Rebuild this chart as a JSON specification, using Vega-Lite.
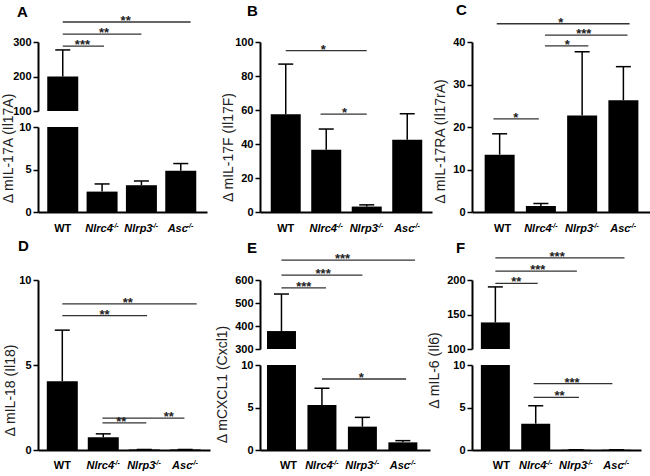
{
 "$schema": "https://vega.github.io/schema/vega-lite/v6.json",
 "padding": {"left": 1, "top": 2, "right": 0, "bottom": 0},
 "background": "white",
 "config": {
  "view": {"stroke": null},
  "font": "Liberation Sans",
  "axis": {"domainColor": "#000", "domainWidth": 2, "tickColor": "#000", "tickWidth": 1.5, "tickSize": 5, "tickCount": 12, "labelFont": "Liberation Sans", "labelFontWeight": "bold", "labelFontSize": 11, "labelColor": "#000", "labelPadding": 2, "labelFlush": false, "labelOverlap": false, "grid": false, "titleFont": "Liberation Sans", "titleFontWeight": "normal", "titleFontSize": 14, "titleColor": "#222"},
  "title": {"anchor": "start", "frame": "group", "fontSize": 15, "fontWeight": "bold", "font": "Liberation Sans", "color": "#000", "offset": 0}
 },
 "datasets": {
  "A": [{"idx": 0, "name": "WT", "mean": 200, "upper": 277}, {"idx": 1, "name": "Nlrc4", "mean": 2.4, "upper": 3.3}, {"idx": 2, "name": "Nlrp3", "mean": 3.15, "upper": 3.65}, {"idx": 3, "name": "Asc", "mean": 4.85, "upper": 5.7}],
  "As": [{"from": 0, "to": 1.05, "lvl": 288, "sx": 0.5, "label": "***"}, {"from": 0, "to": 2.0, "lvl": 323, "sx": 1.05, "label": "**"}, {"from": 0, "to": 3.25, "lvl": 358, "sx": 1.6, "label": "**"}],
  "B": [{"idx": 0, "name": "WT", "mean": 57.5, "upper": 87}, {"idx": 1, "name": "Nlrc4", "mean": 36.6, "upper": 48.8}, {"idx": 2, "name": "Nlrp3", "mean": 3.2, "upper": 4.2}, {"idx": 3, "name": "Asc", "mean": 42.5, "upper": 57.8}],
  "Bs": [{"from": 0, "to": 2, "lvl": 94.9, "sx": 0.93, "label": "*"}, {"from": 0.86, "to": 2, "lvl": 57.6, "sx": 1.45, "label": "*"}],
  "C": [{"idx": 0, "name": "WT", "mean": 13.5, "upper": 18.4}, {"idx": 1, "name": "Nlrc4", "mean": 1.4, "upper": 2.0}, {"idx": 2, "name": "Nlrp3", "mean": 22.7, "upper": 37.7}, {"idx": 3, "name": "Asc", "mean": 26.3, "upper": 34.2}],
  "Cs": [{"from": -0.15, "to": 0.95, "lvl": 21.9, "sx": 0.39, "label": "*"}, {"from": 1.1, "to": 2.15, "lvl": 39.1, "sx": 1.64, "label": "*"}, {"from": 1.1, "to": 3.1, "lvl": 41.6, "sx": 2.04, "label": "***"}, {"from": -0.07, "to": 3.15, "lvl": 44.3, "sx": 1.48, "label": "*"}],
  "D": [{"idx": 0, "name": "WT", "mean": 4.05, "upper": 7.05}, {"idx": 1, "name": "Nlrc4", "mean": 0.75, "upper": 0.95}, {"idx": 2, "name": "Nlrp3", "mean": 0.03, "upper": 0.03}, {"idx": 3, "name": "Asc", "mean": 0.03, "upper": 0.03}],
  "Ds": [{"from": 0, "to": 3.28, "lvl": 8.6, "sx": 1.6, "label": "**"}, {"from": 0, "to": 2.07, "lvl": 7.9, "sx": 1.03, "label": "**"}, {"from": 0.98, "to": 2.98, "lvl": 1.88, "sx": 2.6, "label": "**"}, {"from": 0.98, "to": 2.05, "lvl": 1.6, "sx": 1.44, "label": "**"}],
  "E": [{"idx": 0, "name": "WT", "mean": 378, "upper": 539}, {"idx": 1, "name": "Nlrc4", "mean": 5.3, "upper": 7.26}, {"idx": 2, "name": "Nlrp3", "mean": 2.75, "upper": 3.84}, {"idx": 3, "name": "Asc", "mean": 0.9, "upper": 1.1}],
  "Est": [{"from": 0, "to": 1.1, "lvl": 566, "sx": 0.55, "label": "***"}, {"from": 0, "to": 2.0, "lvl": 621, "sx": 1.03, "label": "***"}, {"from": 0, "to": 3.3, "lvl": 686, "sx": 1.51, "label": "***"}],
  "Esb": [{"from": 1.0, "to": 3.08, "lvl": 8.35, "sx": 1.97, "label": "*"}],
  "F": [{"idx": 0, "name": "WT", "mean": 138.5, "upper": 190}, {"idx": 1, "name": "Nlrc4", "mean": 3.1, "upper": 5.2}, {"idx": 2, "name": "Nlrp3", "mean": 0.03, "upper": 0.03}, {"idx": 3, "name": "Asc", "mean": 0.03, "upper": 0.03}],
  "Fst": [{"from": 0, "to": 1.05, "lvl": 195, "sx": 0.52, "label": "**"}, {"from": 0, "to": 2.02, "lvl": 213, "sx": 1.05, "label": "***"}, {"from": 0, "to": 3.2, "lvl": 232, "sx": 1.53, "label": "***"}],
  "Fsb": [{"from": 0.95, "to": 2.9, "lvl": 7.8, "sx": 1.9, "label": "***"}, {"from": 0.95, "to": 2.07, "lvl": 6.2, "sx": 1.59, "label": "**"}]
 },
 "columns": 6,
 "spacing": {"row": 68, "column": 0},
 "bounds": "flush",
 "align": "none",
 "concat": [
  {"width": 3, "height": 170, "data": {"values": [{"v": 0}]}, "mark": {"type": "text", "text": ""}, "encoding": {}},
  {"width": 169, "height": 170, "title": {"text": "A", "dx": -21, "dy": 9},
   "resolve": {"scale": {"y": "independent"}, "axis": {"y": "independent"}},
   "layer": [
    {"data": {"name": "A"}, "layer": [
     {"transform": [{"filter": "datum.mean >= 100"}], "mark": {"type": "bar", "size": 31, "color": "#000"}, "encoding": {"x": {"field": "idx", "type": "quantitative"}, "y": {"field": "mean", "type": "quantitative", "scale": {"domain": [100, 300], "range": [69, 0], "nice": false, "zero": false}, "axis": {"orient": "left", "values": [100, 200, 300], "labelOverlap": false, "title": null}}, "y2": {"datum": 100}}},
     {"transform": [{"filter": "datum.mean >= 100"}], "mark": {"type": "rule", "color": "#000", "strokeWidth": 1.5}, "encoding": {"x": {"field": "idx", "type": "quantitative"}, "y": {"field": "mean", "type": "quantitative"}, "y2": {"field": "upper"}}},
     {"transform": [{"filter": "datum.mean >= 100"}], "mark": {"type": "tick", "orient": "horizontal", "size": 15, "thickness": 1.5, "color": "#000", "opacity": 1}, "encoding": {"x": {"field": "idx", "type": "quantitative"}, "y": {"field": "upper", "type": "quantitative"}}},
     {"data": {"name": "As"}, "mark": {"type": "rule", "color": "#333", "strokeWidth": 1.3}, "encoding": {"x": {"field": "from", "type": "quantitative"}, "x2": {"field": "to"}, "y": {"field": "lvl", "type": "quantitative"}}},
     {"data": {"name": "As"}, "mark": {"type": "text", "fontSize": 13, "fontWeight": "bold", "baseline": "alphabetic", "dy": 3, "color": "#222"}, "encoding": {"x": {"field": "sx", "type": "quantitative"}, "y": {"field": "lvl", "type": "quantitative"}, "text": {"field": "label"}}}
    ]},
    {"data": {"name": "A"}, "layer": [
     {"mark": {"type": "bar", "size": 31, "color": "#000"}, "encoding": {"x": {"field": "idx", "type": "quantitative", "scale": {"domain": [-0.502, 3.54], "nice": false, "zero": false}, "axis": {"title": null, "ticks": false, "labels": false}}, "y": {"field": "mean", "type": "quantitative", "scale": {"domain": [0, 10], "range": [170, 85], "clamp": true, "nice": false, "zero": false}, "axis": {"orient": "left", "values": [0, 5, 10], "labelOverlap": false, "title": "Δ mIL-17A (Il17A)", "titleX": -23, "titleY": 106}}}},
     {"transform": [{"filter": "datum.upper <= 10"}], "mark": {"type": "rule", "color": "#000", "strokeWidth": 1.5}, "encoding": {"x": {"field": "idx", "type": "quantitative"}, "y": {"field": "mean", "type": "quantitative"}, "y2": {"field": "upper"}}},
     {"transform": [{"filter": "datum.upper <= 10"}], "mark": {"type": "tick", "orient": "horizontal", "size": 15, "thickness": 1.5, "color": "#000", "opacity": 1}, "encoding": {"x": {"field": "idx", "type": "quantitative"}, "y": {"field": "upper", "type": "quantitative"}}},
     {"mark": {"type": "text", "fontSize": 11, "fontWeight": "bold", "baseline": "alphabetic", "dy": 20, "dx": {"expr": "datum.idx > 0 ? -3 : 0"}, "fontStyle": {"expr": "datum.idx > 0 ? 'italic' : 'normal'"}, "color": "#000"}, "encoding": {"x": {"field": "idx", "type": "quantitative"}, "y": {"datum": 0}, "text": {"field": "name"}}},
     {"transform": [{"filter": "datum.idx > 0"}], "mark": {"type": "text", "text": "-/-", "fontSize": 7, "fontWeight": "bold", "fontStyle": "italic", "align": "left", "baseline": "alphabetic", "dy": 16, "dx": {"expr": "datum.name == 'Asc' ? 6 : 10"}, "color": "#000"}, "encoding": {"x": {"field": "idx", "type": "quantitative"}, "y": {"datum": 0}}}
    ]}
   ]},
  {"width": 46, "height": 170, "data": {"values": [{"v": 0}]}, "mark": {"type": "text", "text": ""}, "encoding": {}},
  {"width": 172, "height": 170, "title": {"text": "B", "dx": -13, "dy": -13}, "data": {"name": "B"}, "layer": [
   {"mark": {"type": "bar", "size": 30, "color": "#000"}, "encoding": {"x": {"field": "idx", "type": "quantitative", "scale": {"domain": [-0.512, 3.488], "nice": false, "zero": false}, "axis": {"title": null, "ticks": false, "labels": false}}, "y": {"field": "mean", "type": "quantitative", "scale": {"domain": [0, 100], "nice": false, "zero": false}, "axis": {"values": [0, 20, 40, 60, 80, 100], "tickCount": 12, "labelOverlap": false, "title": "Δ mIL-17F (Il17F)", "titleX": -25, "titleY": 105}}}},
   {"mark": {"type": "rule", "color": "#000", "strokeWidth": 1.5}, "encoding": {"x": {"field": "idx", "type": "quantitative"}, "y": {"field": "mean", "type": "quantitative"}, "y2": {"field": "upper"}}},
   {"mark": {"type": "tick", "orient": "horizontal", "size": 15, "thickness": 1.5, "color": "#000", "opacity": 1}, "encoding": {"x": {"field": "idx", "type": "quantitative"}, "y": {"field": "upper", "type": "quantitative"}}},
   {"data": {"name": "Bs"}, "mark": {"type": "rule", "color": "#333", "strokeWidth": 1.3}, "encoding": {"x": {"field": "from", "type": "quantitative"}, "x2": {"field": "to"}, "y": {"field": "lvl", "type": "quantitative"}}},
   {"data": {"name": "Bs"}, "mark": {"type": "text", "fontSize": 13, "fontWeight": "bold", "baseline": "alphabetic", "dy": 3, "color": "#222"}, "encoding": {"x": {"field": "sx", "type": "quantitative"}, "y": {"field": "lvl", "type": "quantitative"}, "text": {"field": "label"}}},
   {"mark": {"type": "text", "fontSize": 11, "fontWeight": "bold", "baseline": "alphabetic", "dy": 20, "dx": {"expr": "datum.idx > 0 ? -3 : 0"}, "fontStyle": {"expr": "datum.idx > 0 ? 'italic' : 'normal'"}, "color": "#000"}, "encoding": {"x": {"field": "idx", "type": "quantitative"}, "y": {"datum": 0}, "text": {"field": "name"}}},
   {"transform": [{"filter": "datum.idx > 0"}], "mark": {"type": "text", "text": "-/-", "fontSize": 7, "fontWeight": "bold", "fontStyle": "italic", "align": "left", "baseline": "alphabetic", "dy": 16, "dx": {"expr": "datum.name == 'Asc' ? 6 : 10"}, "color": "#000"}, "encoding": {"x": {"field": "idx", "type": "quantitative"}, "y": {"datum": 0}}}
  ]},
  {"width": 39, "height": 170, "data": {"values": [{"v": 0}]}, "mark": {"type": "text", "text": ""}, "encoding": {}},
  {"width": 178, "height": 170, "title": {"text": "C", "dx": -16, "dy": 5}, "data": {"name": "C"}, "layer": [
   {"mark": {"type": "bar", "size": 30, "color": "#000"}, "encoding": {"x": {"field": "idx", "type": "quantitative", "scale": {"domain": [-0.549, 3.524], "nice": false, "zero": false}, "axis": {"title": null, "ticks": false, "labels": false}}, "y": {"field": "mean", "type": "quantitative", "scale": {"domain": [0, 40], "nice": false, "zero": false}, "axis": {"values": [0, 10, 20, 30, 40], "labelOverlap": false, "title": "Δ mIL-17RA (Il17rA)", "titleX": -25, "titleY": 99}}}},
   {"mark": {"type": "rule", "color": "#000", "strokeWidth": 1.5}, "encoding": {"x": {"field": "idx", "type": "quantitative"}, "y": {"field": "mean", "type": "quantitative"}, "y2": {"field": "upper"}}},
   {"mark": {"type": "tick", "orient": "horizontal", "size": 15, "thickness": 1.5, "color": "#000", "opacity": 1}, "encoding": {"x": {"field": "idx", "type": "quantitative"}, "y": {"field": "upper", "type": "quantitative"}}},
   {"data": {"name": "Cs"}, "mark": {"type": "rule", "color": "#333", "strokeWidth": 1.3}, "encoding": {"x": {"field": "from", "type": "quantitative"}, "x2": {"field": "to"}, "y": {"field": "lvl", "type": "quantitative"}}},
   {"data": {"name": "Cs"}, "mark": {"type": "text", "fontSize": 13, "fontWeight": "bold", "baseline": "alphabetic", "dy": 3, "color": "#222"}, "encoding": {"x": {"field": "sx", "type": "quantitative"}, "y": {"field": "lvl", "type": "quantitative"}, "text": {"field": "label"}}},
   {"mark": {"type": "text", "fontSize": 11, "fontWeight": "bold", "baseline": "alphabetic", "dy": 20, "dx": {"expr": "datum.idx > 0 ? -3 : 3"}, "fontStyle": {"expr": "datum.idx > 0 ? 'italic' : 'normal'"}, "color": "#000"}, "encoding": {"x": {"field": "idx", "type": "quantitative"}, "y": {"datum": 0}, "text": {"field": "name"}}},
   {"transform": [{"filter": "datum.idx > 0"}], "mark": {"type": "text", "text": "-/-", "fontSize": 7, "fontWeight": "bold", "fontStyle": "italic", "align": "left", "baseline": "alphabetic", "dy": 16, "dx": {"expr": "datum.name == 'Asc' ? 6 : 10"}, "color": "#000"}, "encoding": {"x": {"field": "idx", "type": "quantitative"}, "y": {"datum": 0}}}
  ]},
  {"width": 1, "height": 170, "data": {"values": [{"v": 0}]}, "mark": {"type": "text", "text": ""}, "encoding": {}},
  {"width": 172, "height": 170, "title": {"text": "D", "dx": -20, "dy": -16}, "data": {"name": "D"}, "layer": [
   {"mark": {"type": "bar", "size": 31, "color": "#000"}, "encoding": {"x": {"field": "idx", "type": "quantitative", "scale": {"domain": [-0.471, 3.483], "nice": false, "zero": false}, "axis": {"title": null, "ticks": false, "labels": false}}, "y": {"field": "mean", "type": "quantitative", "scale": {"domain": [0, 10], "nice": false, "zero": false}, "axis": {"values": [0, 5, 10], "labelOverlap": false, "title": "Δ mIL-18 (Il18)", "titleX": -21, "titleY": 110}}}},
   {"mark": {"type": "rule", "color": "#000", "strokeWidth": 1.5}, "encoding": {"x": {"field": "idx", "type": "quantitative"}, "y": {"field": "mean", "type": "quantitative"}, "y2": {"field": "upper"}}},
   {"mark": {"type": "tick", "orient": "horizontal", "size": 15, "thickness": 1.5, "color": "#000", "opacity": 1}, "encoding": {"x": {"field": "idx", "type": "quantitative"}, "y": {"field": "upper", "type": "quantitative"}}},
   {"data": {"name": "Ds"}, "mark": {"type": "rule", "color": "#333", "strokeWidth": 1.3}, "encoding": {"x": {"field": "from", "type": "quantitative"}, "x2": {"field": "to"}, "y": {"field": "lvl", "type": "quantitative"}}},
   {"data": {"name": "Ds"}, "mark": {"type": "text", "fontSize": 13, "fontWeight": "bold", "baseline": "alphabetic", "dy": 3, "color": "#222"}, "encoding": {"x": {"field": "sx", "type": "quantitative"}, "y": {"field": "lvl", "type": "quantitative"}, "text": {"field": "label"}}},
   {"mark": {"type": "text", "fontSize": 11, "fontWeight": "bold", "baseline": "alphabetic", "dy": 19, "dx": {"expr": "datum.idx > 0 ? -3 : 0"}, "fontStyle": {"expr": "datum.idx > 0 ? 'italic' : 'normal'"}, "color": "#000"}, "encoding": {"x": {"field": "idx", "type": "quantitative"}, "y": {"datum": 0}, "text": {"field": "name"}}},
   {"transform": [{"filter": "datum.idx > 0"}], "mark": {"type": "text", "text": "-/-", "fontSize": 7, "fontWeight": "bold", "fontStyle": "italic", "align": "left", "baseline": "alphabetic", "dy": 15, "dx": {"expr": "datum.name == 'Asc' ? 6 : 10"}, "color": "#000"}, "encoding": {"x": {"field": "idx", "type": "quantitative"}, "y": {"datum": 0}}}
  ]},
  {"width": 50, "height": 170, "data": {"values": [{"v": 0}]}, "mark": {"type": "text", "text": ""}, "encoding": {}},
  {"width": 170, "height": 170, "title": {"text": "E", "dx": -13, "dy": 7},
   "resolve": {"scale": {"y": "independent"}, "axis": {"y": "independent"}},
   "layer": [
    {"data": {"name": "E"}, "layer": [
     {"transform": [{"filter": "datum.mean >= 300"}], "mark": {"type": "bar", "size": 29, "color": "#000"}, "encoding": {"x": {"field": "idx", "type": "quantitative"}, "y": {"field": "mean", "type": "quantitative", "scale": {"domain": [300, 600], "range": [69, 0], "nice": false, "zero": false}, "axis": {"orient": "left", "values": [300, 400, 500, 600], "labelOverlap": false, "title": null}}, "y2": {"datum": 300}}},
     {"transform": [{"filter": "datum.mean >= 300"}], "mark": {"type": "rule", "color": "#000", "strokeWidth": 1.5}, "encoding": {"x": {"field": "idx", "type": "quantitative"}, "y": {"field": "mean", "type": "quantitative"}, "y2": {"field": "upper"}}},
     {"transform": [{"filter": "datum.mean >= 300"}], "mark": {"type": "tick", "orient": "horizontal", "size": 15, "thickness": 1.5, "color": "#000", "opacity": 1}, "encoding": {"x": {"field": "idx", "type": "quantitative"}, "y": {"field": "upper", "type": "quantitative"}}},
     {"data": {"name": "Est"}, "mark": {"type": "rule", "color": "#333", "strokeWidth": 1.3}, "encoding": {"x": {"field": "from", "type": "quantitative"}, "x2": {"field": "to"}, "y": {"field": "lvl", "type": "quantitative"}}},
     {"data": {"name": "Est"}, "mark": {"type": "text", "fontSize": 13, "fontWeight": "bold", "baseline": "alphabetic", "dy": 3, "color": "#222"}, "encoding": {"x": {"field": "sx", "type": "quantitative"}, "y": {"field": "lvl", "type": "quantitative"}, "text": {"field": "label"}}}
    ]},
    {"data": {"name": "E"}, "layer": [
     {"mark": {"type": "bar", "size": 29, "color": "#000"}, "encoding": {"x": {"field": "idx", "type": "quantitative", "scale": {"domain": [-0.407, 3.547], "nice": false, "zero": false}, "axis": {"title": null, "ticks": false, "labels": false}}, "y": {"field": "mean", "type": "quantitative", "scale": {"domain": [0, 10], "range": [170, 85], "clamp": true, "nice": false, "zero": false}, "axis": {"orient": "left", "values": [0, 5, 10], "labelOverlap": false, "title": "Δ mCXCL1 (Cxcl1)", "titleX": -31, "titleY": 104}}}},
     {"transform": [{"filter": "datum.upper <= 10"}], "mark": {"type": "rule", "color": "#000", "strokeWidth": 1.5}, "encoding": {"x": {"field": "idx", "type": "quantitative"}, "y": {"field": "mean", "type": "quantitative"}, "y2": {"field": "upper"}}},
     {"transform": [{"filter": "datum.upper <= 10"}], "mark": {"type": "tick", "orient": "horizontal", "size": 15, "thickness": 1.5, "color": "#000", "opacity": 1}, "encoding": {"x": {"field": "idx", "type": "quantitative"}, "y": {"field": "upper", "type": "quantitative"}}},
     {"data": {"name": "Esb"}, "mark": {"type": "rule", "color": "#333", "strokeWidth": 1.3}, "encoding": {"x": {"field": "from", "type": "quantitative"}, "x2": {"field": "to"}, "y": {"field": "lvl", "type": "quantitative"}}},
     {"data": {"name": "Esb"}, "mark": {"type": "text", "fontSize": 13, "fontWeight": "bold", "baseline": "alphabetic", "dy": 3, "color": "#222"}, "encoding": {"x": {"field": "sx", "type": "quantitative"}, "y": {"field": "lvl", "type": "quantitative"}, "text": {"field": "label"}}},
     {"mark": {"type": "text", "fontSize": 11, "fontWeight": "bold", "baseline": "alphabetic", "dy": 19, "dx": {"expr": "datum.idx > 0 ? -3 : 7"}, "fontStyle": {"expr": "datum.idx > 0 ? 'italic' : 'normal'"}, "color": "#000"}, "encoding": {"x": {"field": "idx", "type": "quantitative"}, "y": {"datum": 0}, "text": {"field": "name"}}},
     {"transform": [{"filter": "datum.idx > 0"}], "mark": {"type": "text", "text": "-/-", "fontSize": 7, "fontWeight": "bold", "fontStyle": "italic", "align": "left", "baseline": "alphabetic", "dy": 15, "dx": {"expr": "datum.name == 'Asc' ? 6 : 10"}, "color": "#000"}, "encoding": {"x": {"field": "idx", "type": "quantitative"}, "y": {"datum": 0}}}
    ]}
   ]},
  {"width": 40, "height": 170, "data": {"values": [{"v": 0}]}, "mark": {"type": "text", "text": ""}, "encoding": {}},
  {"width": 169, "height": 170, "title": {"text": "F", "dx": -16, "dy": 9},
   "resolve": {"scale": {"y": "independent"}, "axis": {"y": "independent"}},
   "layer": [
    {"data": {"name": "F"}, "layer": [
     {"transform": [{"filter": "datum.mean >= 100"}], "mark": {"type": "bar", "size": 29, "color": "#000"}, "encoding": {"x": {"field": "idx", "type": "quantitative"}, "y": {"field": "mean", "type": "quantitative", "scale": {"domain": [100, 200], "range": [69, 0], "nice": false, "zero": false}, "axis": {"orient": "left", "values": [100, 150, 200], "labelOverlap": false, "title": null}}, "y2": {"datum": 100}}},
     {"transform": [{"filter": "datum.mean >= 100"}], "mark": {"type": "rule", "color": "#000", "strokeWidth": 1.5}, "encoding": {"x": {"field": "idx", "type": "quantitative"}, "y": {"field": "mean", "type": "quantitative"}, "y2": {"field": "upper"}}},
     {"transform": [{"filter": "datum.mean >= 100"}], "mark": {"type": "tick", "orient": "horizontal", "size": 15, "thickness": 1.5, "color": "#000", "opacity": 1}, "encoding": {"x": {"field": "idx", "type": "quantitative"}, "y": {"field": "upper", "type": "quantitative"}}},
     {"data": {"name": "Fst"}, "mark": {"type": "rule", "color": "#333", "strokeWidth": 1.3}, "encoding": {"x": {"field": "from", "type": "quantitative"}, "x2": {"field": "to"}, "y": {"field": "lvl", "type": "quantitative"}}},
     {"data": {"name": "Fst"}, "mark": {"type": "text", "fontSize": 13, "fontWeight": "bold", "baseline": "alphabetic", "dy": 3, "color": "#222"}, "encoding": {"x": {"field": "sx", "type": "quantitative"}, "y": {"field": "lvl", "type": "quantitative"}, "text": {"field": "label"}}}
    ]},
    {"data": {"name": "F"}, "layer": [
     {"mark": {"type": "bar", "size": 29, "color": "#000"}, "encoding": {"x": {"field": "idx", "type": "quantitative", "scale": {"domain": [-0.455, 3.485], "nice": false, "zero": false}, "axis": {"title": null, "ticks": false, "labels": false}}, "y": {"field": "mean", "type": "quantitative", "scale": {"domain": [0, 10], "range": [170, 85], "clamp": true, "nice": false, "zero": false}, "axis": {"orient": "left", "values": [0, 5, 10], "labelOverlap": false, "title": "Δ mIL-6 (Il6)", "titleX": -31, "titleY": 90}}}},
     {"transform": [{"filter": "datum.upper <= 10"}], "mark": {"type": "rule", "color": "#000", "strokeWidth": 1.5}, "encoding": {"x": {"field": "idx", "type": "quantitative"}, "y": {"field": "mean", "type": "quantitative"}, "y2": {"field": "upper"}}},
     {"transform": [{"filter": "datum.upper <= 10"}], "mark": {"type": "tick", "orient": "horizontal", "size": 15, "thickness": 1.5, "color": "#000", "opacity": 1}, "encoding": {"x": {"field": "idx", "type": "quantitative"}, "y": {"field": "upper", "type": "quantitative"}}},
     {"data": {"name": "Fsb"}, "mark": {"type": "rule", "color": "#333", "strokeWidth": 1.3}, "encoding": {"x": {"field": "from", "type": "quantitative"}, "x2": {"field": "to"}, "y": {"field": "lvl", "type": "quantitative"}}},
     {"data": {"name": "Fsb"}, "mark": {"type": "text", "fontSize": 13, "fontWeight": "bold", "baseline": "alphabetic", "dy": 3, "color": "#222"}, "encoding": {"x": {"field": "sx", "type": "quantitative"}, "y": {"field": "lvl", "type": "quantitative"}, "text": {"field": "label"}}},
     {"mark": {"type": "text", "fontSize": 11, "fontWeight": "bold", "baseline": "alphabetic", "dy": 19, "dx": {"expr": "datum.idx > 0 ? -3 : 6"}, "fontStyle": {"expr": "datum.idx > 0 ? 'italic' : 'normal'"}, "color": "#000"}, "encoding": {"x": {"field": "idx", "type": "quantitative"}, "y": {"datum": 0}, "text": {"field": "name"}}},
     {"transform": [{"filter": "datum.idx > 0"}], "mark": {"type": "text", "text": "-/-", "fontSize": 7, "fontWeight": "bold", "fontStyle": "italic", "align": "left", "baseline": "alphabetic", "dy": 15, "dx": {"expr": "datum.name == 'Asc' ? 6 : 10"}, "color": "#000"}, "encoding": {"x": {"field": "idx", "type": "quantitative"}, "y": {"datum": 0}}}
    ]}
   ]}
 ]
}
